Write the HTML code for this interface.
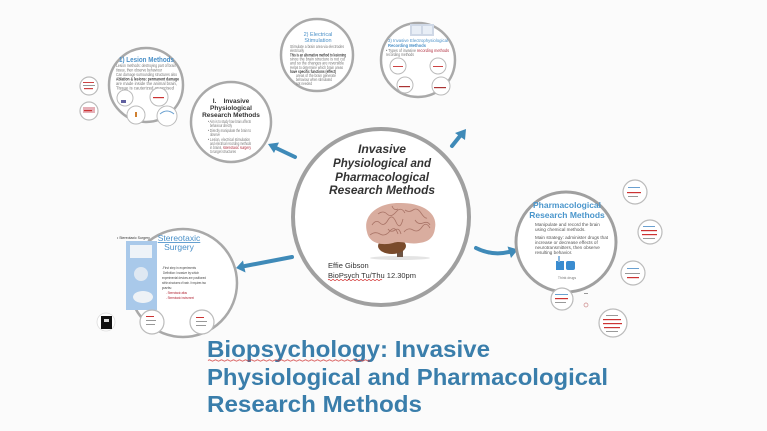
<!DOCTYPE html>
<html>
<head>
<meta charset="utf-8">
<style>
html,body{margin:0;padding:0;background:#fbfbfb;}
body{width:767px;height:431px;overflow:hidden;}
svg{display:block;font-family:"Liberation Sans",Arial,sans-serif;}
.t{font-size:4.2px;fill:#777;}
.tb{font-size:4.2px;fill:#444;font-weight:bold;}
.tr{font-size:4.2px;fill:#b03040;}
</style>
</head>
<body>
<svg width="767" height="431" viewBox="0 0 767 431" xmlns="http://www.w3.org/2000/svg">
<rect width="767" height="431" fill="#fbfbfb"/>

<!-- left tiny circles -->
<circle cx="89" cy="86" r="9" fill="#fff" stroke="#bbb" stroke-width="1.2"/>
<rect x="83" y="82" width="11" height="1" fill="#c44"/><rect x="83" y="85" width="12" height="1" fill="#999"/><rect x="84" y="88" width="9" height="1.2" fill="#c44"/>
<circle cx="89" cy="111" r="9" fill="#fff" stroke="#bbb" stroke-width="1.2"/>
<rect x="83" y="107" width="12" height="6" fill="#e6b0b8"/><rect x="84" y="110" width="8" height="1.2" fill="#c33"/>

<!-- Lesion circle -->
<circle cx="146" cy="85" r="37" fill="#fff" stroke="#a9a9a9" stroke-width="2.5"/>
<text x="119" y="62" font-size="7" font-weight="bold" fill="#4a90c8" textLength="55" lengthAdjust="spacingAndGlyphs">1) Lesion Methods</text>
<text x="116" y="67" class="t" textLength="60" lengthAdjust="spacingAndGlyphs">Lesion methods: destroying part of brain</text>
<text x="116" y="71.5" class="t" textLength="46" lengthAdjust="spacingAndGlyphs">tissue, then observe behaviour</text>
<text x="116" y="76" class="t" textLength="61" lengthAdjust="spacingAndGlyphs">Can damage surrounding structures also</text>
<text x="116" y="80.5" class="tb" textLength="63" lengthAdjust="spacingAndGlyphs">Ablation &amp; lesions: permanent damage</text>
<text x="116" y="85" class="t" textLength="61" lengthAdjust="spacingAndGlyphs">are made inside the animal brain,</text>
<text x="116" y="89.5" class="t" textLength="58" lengthAdjust="spacingAndGlyphs">Tissue is cauterized or excised</text>
<circle cx="125" cy="98" r="8" fill="#fff" stroke="#bbb" stroke-width="1"/><rect x="121" y="100" width="5" height="3" fill="#6060a0"/>
<circle cx="159" cy="97" r="9" fill="#fff" stroke="#bbb" stroke-width="1"/><rect x="153" y="97" width="11" height="1.2" fill="#c33"/>
<circle cx="136" cy="115" r="9" fill="#fff" stroke="#bbb" stroke-width="1"/><rect x="135" y="112" width="2" height="5" fill="#d08030"/>
<circle cx="167" cy="116" r="10" fill="#fff" stroke="#bbb" stroke-width="1"/><path d="M160,114 Q167,108 174,114" fill="none" stroke="#6aa0d0" stroke-width="1"/>

<!-- I. Invasive circle -->
<circle cx="231" cy="122" r="40" fill="#fff" stroke="#a9a9a9" stroke-width="2.5"/>
<text x="231" y="103" text-anchor="middle" font-size="6.5" font-weight="bold" fill="#333">I.&#160;&#160;&#160;&#160;Invasive</text>
<text x="231" y="110" text-anchor="middle" font-size="6.5" font-weight="bold" fill="#333">Physiological</text>
<text x="231" y="117" text-anchor="middle" font-size="6.5" font-weight="bold" fill="#333">Research Methods</text>
<text x="208" y="123" class="t" textLength="43" lengthAdjust="spacingAndGlyphs">• Aim is to study how brain affects</text>
<text x="210" y="127" class="t" textLength="22" lengthAdjust="spacingAndGlyphs">behaviour directly</text>
<text x="208" y="132" class="t" textLength="43" lengthAdjust="spacingAndGlyphs">• Directly manipulate the brain to</text>
<text x="210" y="136" class="t" textLength="10" lengthAdjust="spacingAndGlyphs">observe</text>
<text x="208" y="141" class="t" textLength="42" lengthAdjust="spacingAndGlyphs">• Lesion, electrical stimulation</text>
<text x="210" y="145" class="t" textLength="41" lengthAdjust="spacingAndGlyphs">and electrical recording methods</text>
<text x="210" y="149" class="t" textLength="12" lengthAdjust="spacingAndGlyphs">in brains,</text><text x="223" y="149" class="tr" textLength="28" lengthAdjust="spacingAndGlyphs">stereotaxic surgery</text>
<text x="210" y="153" class="t" textLength="26" lengthAdjust="spacingAndGlyphs">to target structures</text>

<!-- Electrical stimulation circle -->
<circle cx="317" cy="55" r="36" fill="#fff" stroke="#a9a9a9" stroke-width="2.5"/>
<text x="318" y="36" text-anchor="middle" font-size="5.5" fill="#4a90c8">2) Electrical</text>
<text x="318" y="42" text-anchor="middle" font-size="5.5" fill="#4a90c8">Stimulation</text>
<text x="290" y="48" class="t" textLength="54" lengthAdjust="spacingAndGlyphs">Stimulate a brain area via electrodes</text>
<text x="290" y="52" class="t" textLength="14" lengthAdjust="spacingAndGlyphs">electrically</text>
<text x="290" y="56.5" class="tb" textLength="56" lengthAdjust="spacingAndGlyphs">This is an alternative method to lesioning</text>
<text x="290" y="60.5" class="t" textLength="55" lengthAdjust="spacingAndGlyphs">since the brain structure is not cut</text>
<text x="290" y="64.5" class="t" textLength="54" lengthAdjust="spacingAndGlyphs">and so the changes are reversible</text>
<text x="290" y="69" class="t" textLength="53" lengthAdjust="spacingAndGlyphs">Helps to determine which brain areas</text>
<text x="290" y="73" class="tb" textLength="46" lengthAdjust="spacingAndGlyphs">have specific functions (effect)</text>
<text x="296" y="77" class="t" textLength="40" lengthAdjust="spacingAndGlyphs">areas of the brain generate</text>
<text x="296" y="81" class="t" textLength="36" lengthAdjust="spacingAndGlyphs">behaviour when stimulated</text>
<text x="296" y="85" class="t" textLength="16" lengthAdjust="spacingAndGlyphs">not needed</text>

<!-- Recording circle -->
<circle cx="418" cy="60" r="37" fill="#fff" stroke="#a9a9a9" stroke-width="2.5"/>
<rect x="410" y="24" width="24" height="12" fill="#cfd8e6"/>
<rect x="412" y="26" width="9" height="8" fill="#e8eef6"/><rect x="423" y="26" width="9" height="8" fill="#e8eef6"/>
<text x="388" y="42" font-size="4.6" fill="#4a90c8" textLength="60" lengthAdjust="spacingAndGlyphs">3) Invasive Electrophysiological</text>
<text x="388" y="47" font-size="4.6" font-weight="bold" fill="#4a90c8" textLength="38" lengthAdjust="spacingAndGlyphs">Recording Methods</text>
<text x="386" y="52" class="t" textLength="30" lengthAdjust="spacingAndGlyphs">• Types of invasive</text><text x="417" y="52" class="tr" textLength="32" lengthAdjust="spacingAndGlyphs">recording methods</text>
<text x="386" y="56" class="t" textLength="28" lengthAdjust="spacingAndGlyphs">recording methods</text>
<circle cx="398" cy="66" r="8" fill="#fff" stroke="#bbb" stroke-width="1"/><rect x="393" y="66" width="10" height="1" fill="#c44"/>
<circle cx="438" cy="66" r="8" fill="#fff" stroke="#bbb" stroke-width="1"/><rect x="433" y="66" width="10" height="1" fill="#c44"/>
<circle cx="405" cy="85" r="8" fill="#fff" stroke="#bbb" stroke-width="1"/><rect x="399" y="86" width="11" height="1.2" fill="#a33"/>
<circle cx="441" cy="86" r="9" fill="#fff" stroke="#bbb" stroke-width="1"/><rect x="434" y="87" width="12" height="1.2" fill="#a33"/>

<!-- Center circle -->
<circle cx="381" cy="217" r="88" fill="#fff" stroke="#a0a0a0" stroke-width="4"/>
<g font-style="italic" font-weight="bold" font-size="12" fill="#333" text-anchor="middle">
<text x="382" y="153" textLength="48" lengthAdjust="spacingAndGlyphs">Invasive</text>
<text x="382" y="167" textLength="98" lengthAdjust="spacingAndGlyphs">Physiological and</text>
<text x="382" y="181" textLength="94" lengthAdjust="spacingAndGlyphs">Pharmacological</text>
<text x="382" y="194" textLength="106" lengthAdjust="spacingAndGlyphs">Research Methods</text>
</g>
<!-- brain -->
<ellipse cx="400" cy="258" rx="30" ry="2" fill="#e4e4e4"/>
<rect x="397" y="243" width="6" height="14" fill="#6e5444"/>
<ellipse cx="392" cy="246" rx="14" ry="8" fill="#7a4b2c"/>
<path d="M367,232 C362,214 380,202 401,203 C421,203 438,212 435,228 C434,238 428,242 419,243 C409,245 401,240 393,243 C381,246 369,243 367,232 Z" fill="#d9ad9f"/>
<g fill="none" stroke="#a87366" stroke-width="0.8">
<path d="M372,225 q4,-6 8,-2 t8,-3 t8,2 t7,-3"/>
<path d="M378,214 q5,-4 9,0 t9,-2 t9,1"/>
<path d="M405,210 q4,3 8,0 t8,3 t6,5"/>
<path d="M370,235 q5,-4 10,-1 t10,-3 t8,3"/>
<path d="M404,232 q4,-5 9,-2 t9,-3 t8,1"/>
<path d="M415,220 q3,5 8,3 t7,2"/>
<path d="M388,229 q3,4 7,1 t6,4"/>
<path d="M392,206 q2,5 6,3"/>
</g>
<text x="328" y="268" font-size="7.5" fill="#333">Effie Gibson</text>
<text x="328" y="278" font-size="7.5" fill="#333">BioPsych Tu/Thu 12.30pm</text>
<path d="M328,280 q1,-1 2,0 t2,0 t2,0 t2,0 t2,0 t2,0 t2,0 t2,0 t2,0 t2,0 t2,0 t2,0 t2,0 t2,0 t2,0 t2,0 t2,0 t2,0 t2,0 t2,0 t2,0 t2,0 t2,0 t2,0 t2,0 t2,0 t2,0" fill="none" stroke="#d03030" stroke-width="0.6"/>

<!-- arrows -->
<g stroke="#3f8ab8" stroke-width="4" fill="none" stroke-linecap="round">
<line x1="295" y1="157" x2="276" y2="148"/>
<line x1="452" y1="146" x2="460" y2="136"/>
<path d="M292,257 Q266,262 245,266"/>
<path d="M476,248 Q492,256 509,252"/>
</g>
<g fill="#3f8ab8">
<polygon points="268,144 279,142.5 274,153"/>
<polygon points="466,129 465,140 455,133"/>
<polygon points="236,268 245.5,272.5 243,260.5"/>
<polygon points="518,249.5 511,258 507.5,246.5"/>
</g>

<!-- Pharmacological circle -->
<circle cx="566" cy="242" r="50" fill="#fff" stroke="#a0a0a0" stroke-width="3"/>
<text x="567" y="208" text-anchor="middle" font-size="8.5" font-weight="bold" fill="#4a96cc">Pharmacological</text>
<text x="567" y="218" text-anchor="middle" font-size="8.5" font-weight="bold" fill="#4a96cc">Research Methods</text>
<text x="535" y="226" font-size="4.6" fill="#555">Manipulate and record the brain</text>
<text x="535" y="231" font-size="4.6" fill="#555">using chemical methods.</text>
<text x="535" y="239" font-size="4.6" fill="#555">Main strategy: administer drugs that</text>
<text x="535" y="244" font-size="4.6" fill="#555">increase or decrease effects of</text>
<text x="535" y="249" font-size="4.6" fill="#555">neurotransmitters, then observe</text>
<text x="535" y="254" font-size="4.6" fill="#555">resulting behavior.</text>
<rect x="556" y="261" width="8" height="9" fill="#3a8cd0"/>
<rect x="566" y="261" width="9" height="9" rx="2" fill="#3a8cd0"/>
<rect x="558" y="256" width="2" height="6" fill="#8ab8e0"/>
<text x="567" y="279" text-anchor="middle" font-size="3.5" fill="#777">Think drugs</text>

<!-- right small circles -->
<circle cx="635" cy="192" r="12" fill="#fff" stroke="#bbb" stroke-width="1.2"/>
<rect x="628" y="187" width="12" height="1" fill="#6aa0d0"/><rect x="627" y="192" width="14" height="1.2" fill="#c33"/><rect x="628" y="196" width="10" height="1" fill="#999"/>
<circle cx="650" cy="232" r="12" fill="#fff" stroke="#bbb" stroke-width="1.2"/>
<rect x="643" y="226" width="12" height="1" fill="#6aa0d0"/><rect x="641" y="230" width="16" height="1.2" fill="#c33"/><rect x="642" y="234" width="15" height="1.2" fill="#c33"/><rect x="643" y="238" width="12" height="1" fill="#999"/>
<circle cx="633" cy="273" r="12" fill="#fff" stroke="#bbb" stroke-width="1.2"/>
<rect x="627" y="268" width="12" height="1" fill="#6aa0d0"/><rect x="625" y="273" width="15" height="1" fill="#999"/><rect x="627" y="277" width="12" height="1.2" fill="#c33"/>
<circle cx="613" cy="323" r="14" fill="#fff" stroke="#bbb" stroke-width="1.2"/>
<rect x="606" y="315" width="12" height="1" fill="#999"/><rect x="603" y="319" width="18" height="1.2" fill="#c33"/><rect x="603" y="323" width="19" height="1.2" fill="#c33"/><rect x="604" y="327" width="16" height="1.2" fill="#c33"/><rect x="606" y="331" width="12" height="1" fill="#999"/>
<circle cx="562" cy="299" r="11" fill="#fff" stroke="#bbb" stroke-width="1.2"/>
<rect x="555" y="294" width="13" height="1" fill="#6aa0d0"/><rect x="555" y="298" width="13" height="1.2" fill="#c33"/><rect x="555" y="302" width="11" height="1" fill="#999"/>
<rect x="584" y="293" width="4" height="1" fill="#999"/>
<circle cx="586" cy="305" r="2" fill="none" stroke="#c88" stroke-width="0.7"/>

<!-- Stereotaxic circle -->
<circle cx="183" cy="283" r="54" fill="#fff" stroke="#a9a9a9" stroke-width="2.5"/>
<text x="117" y="239" font-size="3.5" fill="#333">• Stereotaxic Surgery</text>
<rect x="126" y="241" width="31" height="69" fill="#a9c9ea"/>
<rect x="130" y="245" width="22" height="13" fill="#eef3f8"/>
<circle cx="141" cy="274" r="7" fill="#dfe8f2"/>
<ellipse cx="143" cy="297" rx="10" ry="6" fill="#eef2f6"/>
<text x="179" y="241" text-anchor="middle" font-size="8.5" fill="#4a90c8" text-decoration="underline">Stereotaxic</text>
<text x="179" y="250" text-anchor="middle" font-size="8.5" fill="#4a90c8">Surgery</text>
<text x="162" y="269" font-size="4" fill="#444" textLength="34" lengthAdjust="spacingAndGlyphs">-First step in experiments</text>
<text x="163" y="274" font-size="4" fill="#444" textLength="36" lengthAdjust="spacingAndGlyphs">Definition: Invasive by which</text>
<text x="162" y="279" font-size="4" fill="#444" textLength="44" lengthAdjust="spacingAndGlyphs">experimental devices are positioned</text>
<text x="162" y="284" font-size="4" fill="#444" textLength="44" lengthAdjust="spacingAndGlyphs">within structures of brain. It requires two</text>
<text x="162" y="289" font-size="4" fill="#444">parts:</text>
<text x="166" y="294" font-size="4" fill="#b02030" textLength="21" lengthAdjust="spacingAndGlyphs">- Stereotaxic atlas</text>
<text x="166" y="299" font-size="4" fill="#b02030" textLength="28" lengthAdjust="spacingAndGlyphs">- Stereotaxic instrument</text>
<circle cx="152" cy="322" r="12" fill="#fff" stroke="#bbb" stroke-width="1.2"/>
<rect x="146" y="316" width="8" height="1" fill="#c33"/><rect x="146" y="320" width="10" height="1" fill="#999"/><rect x="146" y="324" width="9" height="1" fill="#999"/>
<circle cx="202" cy="322" r="12" fill="#fff" stroke="#bbb" stroke-width="1.2"/>
<rect x="196" y="317" width="8" height="1" fill="#c33"/><rect x="196" y="321" width="11" height="1" fill="#999"/><rect x="196" y="325" width="10" height="1" fill="#999"/>
<circle cx="106" cy="322" r="9" fill="#fff" stroke="#ddd" stroke-width="0.8"/>
<rect x="101" y="316" width="11" height="13" fill="#111"/>
<rect x="104" y="319" width="5" height="3" fill="#ddd"/>

<!-- bottom title -->
<g font-weight="bold" font-size="23.5" fill="#3a7eab">
<text x="207" y="357" textLength="283" lengthAdjust="spacingAndGlyphs">Biopsychology: Invasive</text>
<text x="207" y="385" textLength="401" lengthAdjust="spacingAndGlyphs">Physiological and Pharmacological</text>
<text x="207" y="412" textLength="215" lengthAdjust="spacingAndGlyphs">Research Methods</text>
</g>
<path d="M208,360.5 q1.5,-1.2 3,0 t3,0 t3,0 t3,0 t3,0 t3,0 t3,0 t3,0 t3,0 t3,0 t3,0 t3,0 t3,0 t3,0 t3,0 t3,0 t3,0 t3,0 t3,0 t3,0 t3,0 t3,0 t3,0 t3,0 t3,0 t3,0 t3,0 t3,0 t3,0 t3,0 t3,0 t3,0 t3,0 t3,0 t3,0 t3,0 t3,0 t3,0 t3,0 t3,0 t3,0 t3,0 t3,0 t3,0 t3,0 t3,0 t3,0 t3,0 t3,0 t3,0 t3,0 t3,0 t3,0 t3,0" fill="none" stroke="#d03030" stroke-width="0.7"/>
</svg>
</body>
</html>
